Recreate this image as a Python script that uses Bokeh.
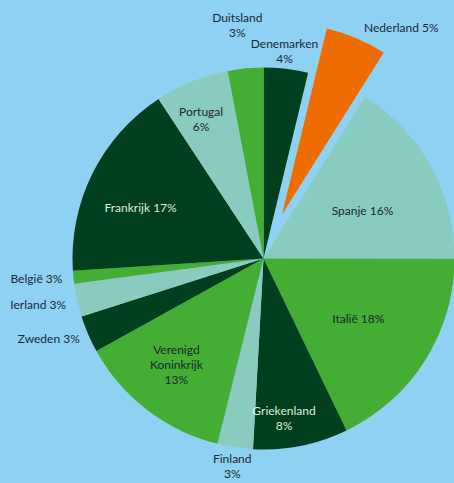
import numpy as np
import pandas as pd
from bokeh.plotting import figure
from bokeh.models import ColumnDataSource, Range1d, GlobalInlineStyleSheet
from bokeh.core.properties import value
from bokeh.embed import file_html
from bokeh.resources import INLINE

# ---- data (clockwise from 12 o'clock) ----
countries = ["Denemarken", "Nederland", "Spanje", "Italië", "Griekenland", "Finland",
             "Verenigd Koninkrijk", "Zweden", "Ierland", "België", "Frankrijk",
             "Portugal", "Duitsland"]
shares = [3.75, 5.17, 16.08, 17.8, 8.03, 3.0, 13.06, 3.14, 2.8, 1.08, 16.75, 6.25, 3.0]
labels = ["Denemarken\n4%", "Nederland 5%", "Spanje 16%", "Italië 18%", "Griekenland\n8%",
          "Finland\n3%", "Verenigd\nKoninkrijk\n13%", "Zweden 3%", "Ierland 3%",
          "België 3%", "Frankrijk 17%", "Portugal\n6%", "Duitsland\n3%"]

# ---- styling / layout ----
BG = "#8fd1f3"
DARK, GREEN, TEAL, ORANGE = "#003f1e", "#43ad34", "#89cbbf", "#ee6c00"
colors = [DARK, ORANGE, TEAL, GREEN, DARK, TEAL, GREEN, DARK, TEAL, GREEN, DARK, TEAL, GREEN]
TXT_DARK, TXT_LIGHT = "#1c2733", "#dcebdc"
text_colors = [TXT_DARK, TXT_DARK, TXT_DARK, TXT_DARK, TXT_LIGHT, TXT_DARK, TXT_DARK,
               TXT_DARK, TXT_DARK, TXT_DARK, TXT_LIGHT, TXT_DARK, TXT_DARK]
explode = [0, 48, 0, 0, 0, 0, 0, 0, 0, 0, 0, 0, 0]
label_r = [209, 269, 110, 112, 161, 210, 137, 229, 230, 228, 133, 153, 235]
label_shift_deg = [-1, 8, 3, 0, 4, 0, 2, 3, 1, 0.5, -4, -2, -1]
CX, CY, R = 263, -258, 191
LINE_H = 15
W, H = 454, 483

df = pd.DataFrame({"country": countries, "share": shares, "label": labels,
                   "color": colors, "tcolor": text_colors})
frac = df["share"] / df["share"].sum() * 2 * np.pi
cum_end = frac.cumsum()
cum_start = cum_end - frac
df["start"] = np.pi / 2 - cum_start
df["end"] = np.pi / 2 - cum_end
mid = np.pi / 2 - (cum_start + cum_end) / 2
df["cx"] = CX + np.array(explode) * np.cos(mid)
df["cy"] = CY + np.array(explode) * np.sin(mid)

p = figure(width=W, height=H, x_range=Range1d(0, W), y_range=Range1d(-H, 0),
           output_backend="svg", toolbar_location=None, x_axis_type=None, y_axis_type=None,
           min_border=0, background_fill_color=BG, border_fill_color=BG,
           outline_line_color=None)
p.grid.visible = False

p.wedge(x="cx", y="cy", radius=R, start_angle="start", end_angle="end",
        direction="clock", fill_color="color", line_color=None,
        source=ColumnDataSource(df))

rows = {"x": [], "y": [], "t": [], "c": []}
for i, row in df.iterrows():
    ang = mid[i] - np.deg2rad(label_shift_deg[i])
    lx = CX + label_r[i] * np.cos(ang)
    ly = CY + label_r[i] * np.sin(ang)
    lines = row["label"].split("\n")
    n = len(lines)
    for k, line in enumerate(lines):
        rows["x"].append(lx)
        rows["y"].append(ly - (k - (n - 1) / 2) * LINE_H)
        rows["t"].append(line)
        rows["c"].append(row["tcolor"])

p.text(x="x", y="y", text="t", text_color="c", text_align="center",
       text_baseline="middle", text_font=value("Lato"), text_font_size="12px",
       source=ColumnDataSource(rows))

p.stylesheets = [GlobalInlineStyleSheet(
    css="html, body { background-color: #8fd1f3; margin: 0; padding: 0; overflow: hidden; }")]

open("out.html", "w").write(file_html(p, INLINE))
